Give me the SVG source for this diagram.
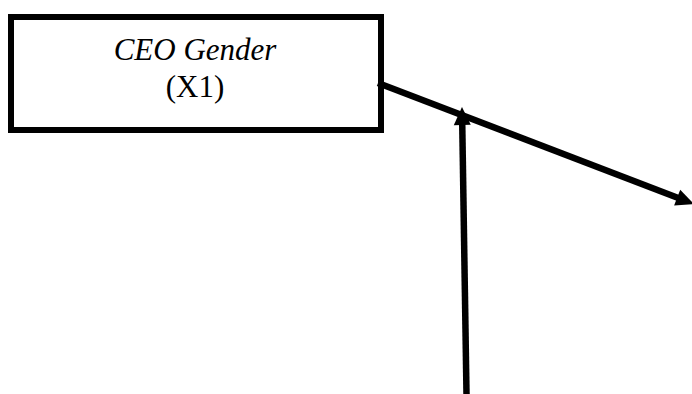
<svg xmlns="http://www.w3.org/2000/svg" width="692" height="394" viewBox="0 0 692 394">
  <style>
    .box { fill: #ffffff; stroke: #000000; stroke-width: 6; }
    .label { font-family: "Liberation Serif", "Times New Roman", serif; font-size: 31px; fill: #000000; text-anchor: middle; }
    .italic { font-style: italic; }
    .edge { stroke: #000000; stroke-width: 6.5; fill: none; marker-end: url(#head); }
  </style>
  <defs>
    <marker id="head" markerUnits="userSpaceOnUse" markerWidth="18" markerHeight="17" refX="4" refY="8.5" orient="auto" overflow="visible">
      <path d="M0,0 L18,8.5 L0,17 z" fill="#000000"/>
    </marker>
  </defs>
  <rect width="692" height="394" fill="#ffffff"/>

  <g id="ceo-gender">
    <rect class="box" x="11" y="17" width="370" height="113"/>
    <text class="label italic" x="195" y="60">CEO Gender</text>
    <text class="label" x="195" y="97">(X1)</text>
  </g>

  <g id="connectors">
    <line class="edge" x1="378" y1="83" x2="680.9" y2="199"/>
    <line class="edge" x1="466.5" y1="394" x2="462.2" y2="121"/>
  </g>
</svg>
